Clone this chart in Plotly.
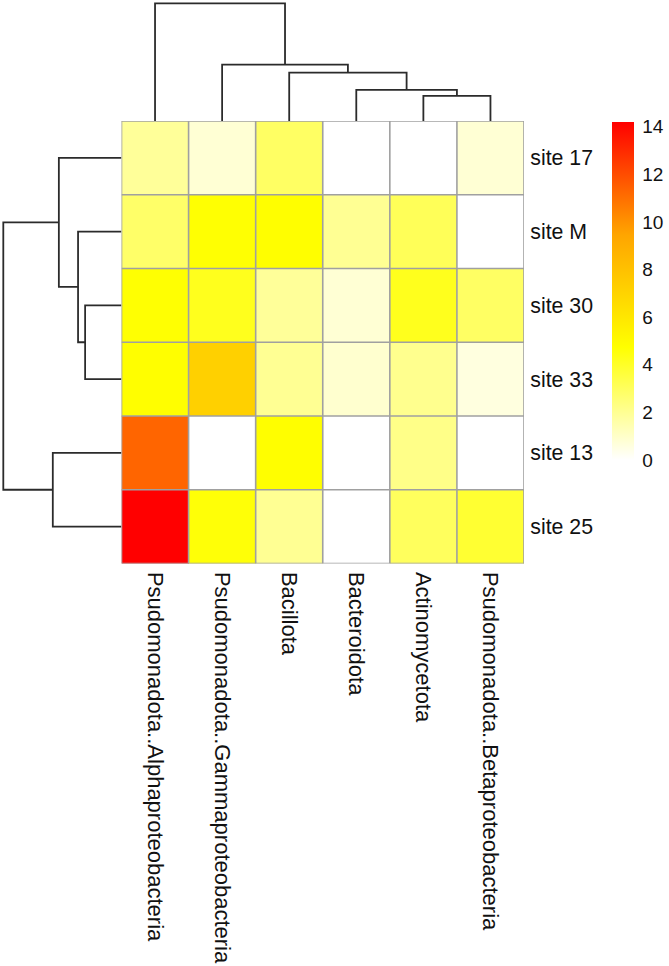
import plotly.graph_objects as go

# ---------------- data ----------------
col_labels = [
    "Psudomonadota..Alphaproteobacteria",
    "Psudomonadota..Gammaproteobacteria",
    "Bacillota",
    "Bacteroidota",
    "Actinomycetota",
    "Psudomonadota..Betaproteobacteria",
]
row_labels = ["site 17", "site M", "site 30", "site 33", "site 13", "site 25"]

values = [
    [1.9, 0.8, 2.9, 0.0, 0.0, 0.8],    # site 17
    [2.8, 4.7, 4.8, 2.0, 3.1, 0.0],    # site M
    [4.7, 4.2, 1.9, 0.8, 4.2, 2.9],    # site 30
    [4.8, 7.2, 2.0, 0.9, 2.1, 0.6],    # site 33
    [11.3, 0.0, 4.8, 0.0, 2.2, 0.0],   # site 13
    [14.2, 4.6, 2.0, 0.0, 3.0, 3.8],   # site 25
]

# hierarchical clustering (leaf indices in display order; new nodes numbered n, n+1, ...)
col_merges = [(4, 5), (3, 6), (2, 7), (1, 8), (0, 9)]
col_heights = [2.5, 3.1, 4.8, 5.6, 11.7]
row_merges = [(2, 3), (1, 6), (0, 7), (4, 5), (8, 9)]
row_heights = [3.6, 4.3, 6.2, 6.8, 11.7]

colorbar_ticks = [0, 2, 4, 6, 8, 10, 12, 14]
zmin, zmax = 0, 14.2

# ---------------- helpers ----------------
W, H = 669, 966


def dendro_segments(n, merges, heights):
    pos = list(range(n))
    hgt = [0.0] * n
    xs, ys = [], []
    for (a, b), h in zip(merges, heights):
        xs += [pos[a], pos[a], pos[b], pos[b], None]
        ys += [hgt[a], h, h, hgt[b], None]
        pos.append((pos[a] + pos[b]) / 2)
        hgt.append(h)
    return xs, ys


ncol, nrow = len(col_labels), len(row_labels)

# pixel layout
hm_left, hm_right = 121.5, 524.0
hm_top, hm_bottom = 121.0, 563.5
dend_end = 3.3

x_dom = [hm_left / W, hm_right / W]
y_dom = [1 - hm_bottom / H, 1 - hm_top / H]

colorscale = [
    [0.0, "#FFFFFF"],
    [1 / 3, "#FFFF00"],
    [2 / 3, "#FFA500"],
    [1.0, "#FF0000"],
]

fig = go.Figure()

fig.add_trace(go.Heatmap(
    z=values,
    x=list(range(ncol)),
    y=list(range(nrow)),
    zmin=zmin, zmax=zmax,
    colorscale=colorscale,
    hoverinfo="skip",
    colorbar=dict(
        x=611.5 / W, xanchor="left", xpad=0,
        y=1 - 122 / H, yanchor="top", ypad=0,
        lenmode="pixels", len=338,
        thickness=22,
        outlinewidth=0,
        tickvals=colorbar_ticks,
        ticks="outside", ticklen=5, tickcolor="rgba(0,0,0,0)",
        tickfont=dict(size=19, color="#111111"),
    ),
    xaxis="x", yaxis="y",
))

# column dendrogram
cx, cy = dendro_segments(ncol, col_merges, col_heights)
fig.add_trace(go.Scatter(
    x=cx, y=cy, mode="lines",
    line=dict(color="#2b2b2b", width=1.8),
    hoverinfo="skip", showlegend=False,
    xaxis="x2", yaxis="y2",
))

# row dendrogram
rx, ry = dendro_segments(nrow, row_merges, row_heights)
fig.add_trace(go.Scatter(
    x=ry, y=rx, mode="lines",
    line=dict(color="#2b2b2b", width=1.8),
    hoverinfo="skip", showlegend=False,
    xaxis="x3", yaxis="y3",
))

# cell borders
shapes = []
for i in range(ncol + 1):
    shapes.append(dict(type="line", xref="x", yref="y",
                       x0=i - 0.5, x1=i - 0.5, y0=-0.5, y1=nrow - 0.5,
                       line=dict(color="#A0A0A0", width=1.6), layer="above"))
for j in range(nrow + 1):
    shapes.append(dict(type="line", xref="x", yref="y",
                       x0=-0.5, x1=ncol - 0.5, y0=j - 0.5, y1=j - 0.5,
                       line=dict(color="#A0A0A0", width=1.6), layer="above"))

col_top = max(col_heights) * hm_top / (hm_top - dend_end)
row_top = max(row_heights) * hm_left / (hm_left - dend_end)

hidden = dict(visible=False, showgrid=False, zeroline=False, fixedrange=True)

fig.update_layout(
    width=W, height=H,
    margin=dict(l=0, r=0, t=0, b=0),
    paper_bgcolor="white", plot_bgcolor="white",
    font=dict(family="Liberation Sans, Arial, sans-serif", size=21, color="#111111"),
    showlegend=False,
    shapes=shapes,
    xaxis=dict(
        domain=x_dom, range=[-0.5, ncol - 0.5],
        tickmode="array", tickvals=list(range(ncol)), ticktext=col_labels,
        tickangle=90, side="bottom",
        tickfont=dict(size=22),
        ticks="outside", ticklen=3, tickcolor="rgba(0,0,0,0)",
        showgrid=False, zeroline=False, showline=False,
    ),
    yaxis=dict(
        domain=y_dom, range=[nrow - 0.5, -0.5],
        tickmode="array", tickvals=list(range(nrow)), ticktext=row_labels,
        side="right", anchor="x",
        tickfont=dict(size=21.3),
        ticks="outside", ticklen=1, tickcolor="rgba(0,0,0,0)",
        showgrid=False, zeroline=False, showline=False,
    ),
    xaxis2=dict(domain=x_dom, range=[-0.5, ncol - 0.5], anchor="y2", **hidden),
    yaxis2=dict(domain=[1 - hm_top / H, 1], range=[0, col_top], anchor="x2", **hidden),
    xaxis3=dict(domain=[0, hm_left / W], range=[row_top, 0], anchor="y3", **hidden),
    yaxis3=dict(domain=y_dom, range=[nrow - 0.5, -0.5], anchor="x3", **hidden),
)

fig.write_html("out.html")
